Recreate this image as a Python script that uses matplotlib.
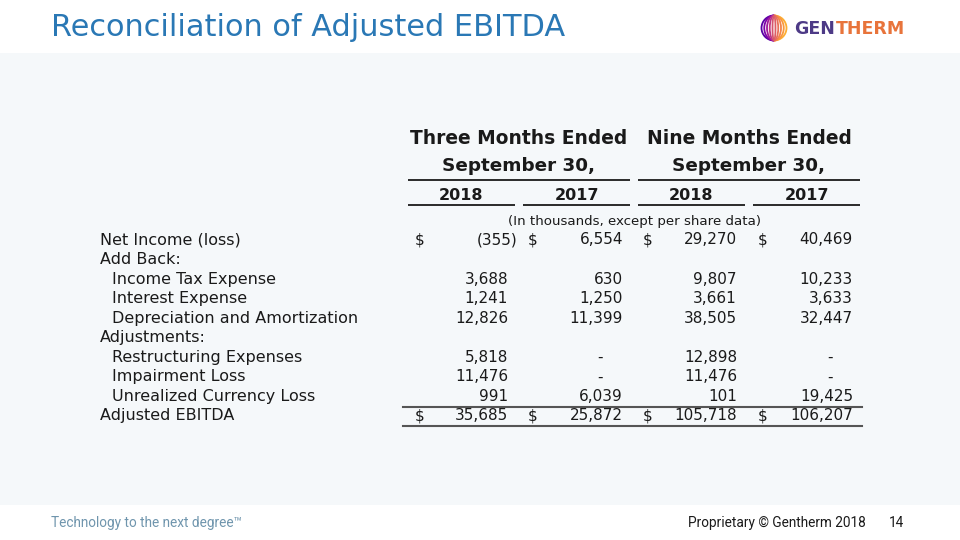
import numpy as np
import matplotlib
matplotlib.use("Agg")
from matplotlib import pyplot as plt
import matplotlib.patches as mpatches

# table data (in thousands), 0 shown as "-"
row_labels = ["Net Income (loss)", "Add Back:", "Income Tax Expense", "Interest Expense",
              "Depreciation and Amortization", "Adjustments:", "Restructuring Expenses",
              "Impairment Loss", "Unrealized Currency Loss", "Adjusted EBITDA"]
row_indent = [0, 0, 1, 1, 1, 0, 1, 1, 1, 0]
q3_2018 = [-355, None, 3688, 1241, 12826, None, 5818, 11476, 991, 35685]
q3_2017 = [6554, None, 630, 1250, 11399, None, 0, 0, 6039, 25872]
ytd_2018 = [29270, None, 9807, 3661, 38505, None, 12898, 11476, 101, 105718]
ytd_2017 = [40469, None, 10233, 3633, 32447, None, 0, 0, 19425, 106207]
dollar_rows = [0, 9]
period_titles = ["Three Months Ended", "Nine Months Ended"]
period_sub = "September 30,"
years = ["2018", "2017", "2018", "2017"]
unit_note = "(In thousands, except per share data)"

TXT = "#1a1a1a"
BLUE = "#2a78b5"
PANEL = "#f5f8fa"
TABLE_FONT = "DejaVu Sans"

fig = plt.figure(figsize=(9.6, 5.4), dpi=100)
ax = fig.add_axes([0, 0, 1, 1])
ax.set_xlim(0, 960)
ax.set_ylim(540, 0)
ax.axis("off")
renderer = fig.canvas.get_renderer()

# slide background panel
ax.add_patch(mpatches.Rectangle((0, 53), 960, 452, facecolor=PANEL, edgecolor="none"))

title = ax.text(51, 28, "Reconciliation of Adjusted EBITDA", fontsize=20, color=BLUE,
                family="DejaVu Sans", va="center", ha="left")
# stretch the title to the width it has on the slide
w = title.get_window_extent(renderer).width
title.set_fontsize(20 * 515 / w)

# logo: striped globe + wordmark
cx, cy, r = 774, 28, 12.5
left_cols = plt.cm.plasma(np.linspace(0.15, 0.55, 5))
right_cols = plt.cm.plasma(np.linspace(0.58, 0.82, 5))[::-1]
for i, wd in enumerate(np.linspace(2 * r, 3, 5)):
    ax.add_patch(mpatches.Arc((cx, cy), wd, 2 * r, theta1=90, theta2=270,
                              edgecolor=left_cols[i], lw=1.3))
    ax.add_patch(mpatches.Arc((cx, cy), wd, 2 * r, theta1=-90, theta2=90,
                              edgecolor=right_cols[i], lw=1.3))
gen = ax.text(794, 29, "GEN", fontsize=12.5, fontweight="bold", color="#4d3a86",
              va="center", ha="left", family="DejaVu Sans")
gx1 = ax.transData.inverted().transform(gen.get_window_extent(renderer))[1][0]
ax.text(gx1 + 1.5, 29, "THERM", fontsize=12.5, fontweight="bold", color="#e8743b",
        va="center", ha="left", family="DejaVu Sans")

# footer
ax.text(51, 523, "Technology to the next degree\u2122", fontsize=9.8, color="#6f95ad",
        family="Roboto", va="center", ha="left")
ax.text(866, 523, "Proprietary \u00a9 Gentherm 2018", fontsize=9.8, color=TXT,
        family="Roboto", va="center", ha="right")
ax.text(904, 523, "14", fontsize=9.8, color=TXT, family="Roboto", va="center", ha="right")

# table header
group_x = [(408, 630), (638, 860)]
for (x0, x1), t in zip(group_x, period_titles):
    ax.text((x0 + x1) / 2, 138, t, fontsize=13.4, fontweight="bold", color=TXT,
            family=TABLE_FONT, ha="center", va="center")
    ax.text((x0 + x1) / 2, 166, period_sub, fontsize=13.2, fontweight="bold", color=TXT,
            family=TABLE_FONT, ha="center", va="center")
    ax.plot([x0, x1], [180, 180], color=TXT, lw=1.3, solid_capstyle="butt")

col_span = [(408, 515), (523, 630), (638, 745), (753, 860)]
for (x0, x1), y in zip(col_span, years):
    ax.text((x0 + x1) / 2, 195, y, fontsize=11.5, fontweight="bold", color=TXT,
            family=TABLE_FONT, ha="center", va="center")
    ax.plot([x0, x1], [205, 205], color=TXT, lw=1.3, solid_capstyle="butt")

ax.text(634, 221, unit_note, fontsize=9.6, color=TXT, family=TABLE_FONT, ha="center", va="center")

# table body
row_y = 240 + 19.55 * np.arange(len(row_labels))
dollar_x = [420, 533, 648, 763]
right_x = [508, 623, 737, 853]
series = [q3_2018, q3_2017, ytd_2018, ytd_2017]

for i, (lab, ind) in enumerate(zip(row_labels, row_indent)):
    y = row_y[i]
    ax.text(100 + 12 * ind, y, lab, fontsize=11.5, color=TXT, family=TABLE_FONT,
            ha="left", va="center")
    for c, vals in enumerate(series):
        v = vals[i]
        if v is None:
            continue
        if i in dollar_rows:
            ax.text(dollar_x[c], y, "$", fontsize=11, color=TXT, family=TABLE_FONT,
                    ha="center", va="center")
        if v == 0:
            ax.text(right_x[c] - 23, y, "-", fontsize=11, color=TXT, family=TABLE_FONT,
                    ha="center", va="center")
        elif v < 0:
            ax.text(right_x[c] + 10, y, f"({abs(v):,})", fontsize=11, color=TXT,
                    family=TABLE_FONT, ha="right", va="center")
        else:
            ax.text(right_x[c], y, f"{v:,}", fontsize=11, color=TXT, family=TABLE_FONT,
                    ha="right", va="center")

ax.plot([403, 862], [406.5, 406.5], color="#555555", lw=1.5)
ax.plot([403, 862], [425.5, 425.5], color="#555555", lw=1.5)

fig.savefig("out.png", dpi=100, facecolor="white")
